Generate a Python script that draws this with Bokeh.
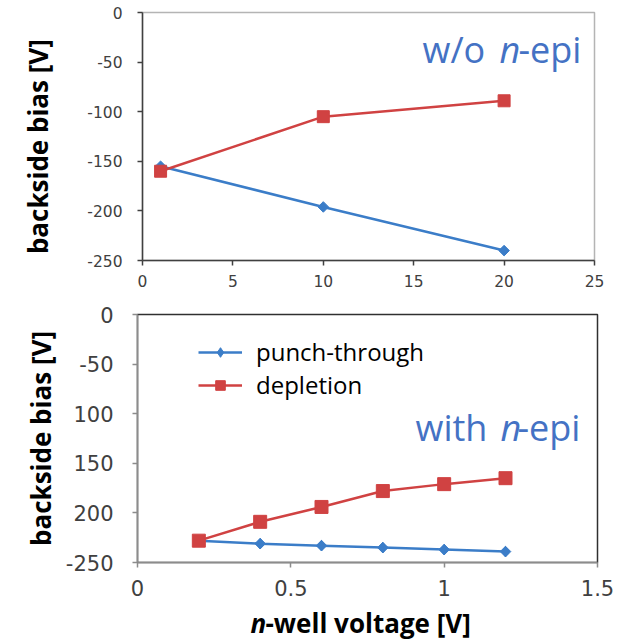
import numpy as np
from bokeh.plotting import figure
from bokeh.models import Range1d, FixedTicker, Label, Legend, LegendItem
from bokeh.core.properties import value
from bokeh.embed import file_html
from bokeh.resources import INLINE

# ---- data: top panel (w/o n-epi) ----
top_x = [1, 10, 20]
top_punch = [-155, -196, -240]
top_depl = [-160, -105, -89]

# ---- data: bottom panel (with n-epi) ----
bot_x = [0.2, 0.4, 0.6, 0.8, 1.0, 1.2]
bot_punch = [-228, -231, -233, -235, -237, -239]
bot_depl = [-228, -209, -194, -178, -171, -165]

top_xticks = [0, 5, 10, 15, 20, 25]
bot_xticks = [0, 0.5, 1, 1.5]
yticks = [-250, -200, -150, -100, -50, 0]
top_ytick_labels = ["-250", "-200", "-150", "-100", "-50", "0"]
bot_ytick_labels = ["-250", "200", "150", "100", "-50", "0"]

BLUE = "#3B7DC8"
RED = "#D04242"
TXT_BLUE = "#4472C4"
LBL_FONT = "Open Sans"
TICK_FONT = "DejaVu Sans"


def style_axes(p, axis_color, tick_size, xstand, ystand):
    for ax in (p.xaxis[0], p.yaxis[0]):
        ax.axis_line_color = axis_color
        ax.axis_line_width = 1.5
        ax.major_tick_line_color = axis_color
        ax.major_tick_line_width = 1.5
        ax.major_tick_in = 0
        ax.major_tick_out = 5
        ax.minor_tick_line_color = None
        ax.major_label_text_font = TICK_FONT
        ax.major_label_text_font_size = tick_size
        ax.major_label_text_color = "#404040"
    p.xaxis[0].major_label_standoff = xstand
    p.yaxis[0].major_label_standoff = ystand
    p.grid.visible = False


# ================= top panel =================
p1 = figure(width=625, height=290, output_backend="svg", toolbar_location=None,
            x_range=Range1d(0, 25), y_range=Range1d(-250, 0),
            min_border_left=142, min_border_right=31, min_border_top=12,
            min_border_bottom=30)
p1.outline_line_color = "#b4b4b4"
p1.outline_line_width = 1.5
style_axes(p1, "#404040", "15.5px", 9, 15)
p1.xaxis.ticker = FixedTicker(ticks=top_xticks)
p1.yaxis.ticker = FixedTicker(ticks=yticks)
p1.yaxis.major_label_overrides = {t: l for t, l in zip(yticks, top_ytick_labels)}
p1.yaxis.axis_label = "backside bias [V]\u00a0\u00a0\u00a0"
p1.yaxis.axis_label_text_font = LBL_FONT
p1.yaxis.axis_label_text_font_style = "bold"
p1.yaxis.axis_label_text_font_size = "26px"
p1.yaxis.axis_label_text_color = "black"
p1.yaxis.axis_label_standoff = 28

p1.line(top_x, top_punch, line_color=BLUE, line_width=2.5)
p1.scatter(top_x, top_punch, marker="square", angle=np.pi / 4, size=7.5,
           fill_color=BLUE, line_color=BLUE)
p1.line(top_x, top_depl, line_color=RED, line_width=2.5)
p1.scatter(top_x, top_depl, marker="square", size=12, fill_color=RED, line_color=RED)

def px_top(px):
    return (px - 142) * 25 / 452

for txt, px, style in [("w/o ", 422, "normal"), ("n", 499, "italic"), ("-epi", 518, "normal")]:
    p1.add_layout(Label(x=px_top(px), y=-37.5, text=txt, text_font=LBL_FONT,
                        text_font_size="36px", text_font_style=style,
                        text_color=TXT_BLUE, text_baseline="alphabetic",
                        text_align="left"))

# ================= bottom panel =================
p2 = figure(width=625, height=316, output_backend="svg", toolbar_location=None,
            x_range=Range1d(0, 1.5), y_range=Range1d(-250, 0),
            min_border_left=137, min_border_right=28, min_border_top=24,
            min_border_bottom=44)
p2.outline_line_color = "#303030"
p2.outline_line_width = 1.5
style_axes(p2, "#8c8c8c", "21px", 12, 19)
p2.xaxis.ticker = FixedTicker(ticks=bot_xticks)
p2.yaxis.ticker = FixedTicker(ticks=yticks)
p2.yaxis.major_label_overrides = {t: l for t, l in zip(yticks, bot_ytick_labels)}
p2.xaxis.major_label_overrides = {0: "0", 0.5: "0.5", 1: "1", 1.5: "1.5"}
p2.yaxis.axis_label = "backside bias [V]"
p2.yaxis.axis_label_text_font = LBL_FONT
p2.yaxis.axis_label_text_font_style = "bold"
p2.yaxis.axis_label_text_font_size = "26px"
p2.yaxis.axis_label_text_color = "black"
p2.yaxis.axis_label_standoff = 4

l1 = p2.line(bot_x, bot_punch, line_color=BLUE, line_width=2.5)
# diamond drawn underneath (used by the legend), covered by the rotated square
s1 = p2.scatter(bot_x, bot_punch, marker="diamond", size=10.5,
                fill_color=BLUE, line_color=BLUE)
p2.scatter(bot_x, bot_punch, marker="square", angle=np.pi / 4, size=7.5,
           fill_color=BLUE, line_color=BLUE)
l2 = p2.line(bot_x, bot_depl, line_color=RED, line_width=2.5)
s2 = p2.scatter(bot_x, bot_depl, marker="square", size=13, fill_color=RED, line_color=RED)

p2.add_layout(Legend(items=[LegendItem(label="punch-through", renderers=[l1, s1]),
                            LegendItem(label="depletion", renderers=[l2, s2])],
                     location=(61, 161), padding=0, margin=0, spacing=0,
                     glyph_width=44, glyph_height=24, label_height=24,
                     label_standoff=14, label_text_font=LBL_FONT,
                     label_text_font_size="24px", label_text_color="black",
                     background_fill_alpha=0, border_line_color=None))

def px_bot(px):
    return (px - 137) * 1.5 / 460

for txt, px, style in [("with ", 415, "normal"), ("n", 500, "italic"), ("-epi", 517, "normal")]:
    p2.add_layout(Label(x=px_bot(px), y=-114, text=txt, text_font=LBL_FONT,
                        text_font_size="36px", text_font_style=style,
                        text_color=TXT_BLUE, text_baseline="alphabetic",
                        text_align="left"))

# ================= x-axis title strip =================
p3 = figure(width=625, height=36, output_backend="svg", toolbar_location=None,
            x_range=Range1d(0, 625), y_range=Range1d(0, 36),
            min_border=0, x_axis_location=None, y_axis_location=None)
p3.outline_line_color = None
p3.grid.visible = False
p3.text(x=[250], y=[20], text=["n"], text_font=value(LBL_FONT),
        text_font_size="26px", text_font_style="bold italic", text_color="black",
        text_baseline="middle", text_align="left")
p3.text(x=[265], y=[20], text=["-well voltage [V]"], text_font=value(LBL_FONT),
        text_font_size="26px", text_font_style="bold", text_color="black",
        text_baseline="middle", text_align="left")

open("out.html", "w").write(file_html([p1, p2, p3], INLINE))
